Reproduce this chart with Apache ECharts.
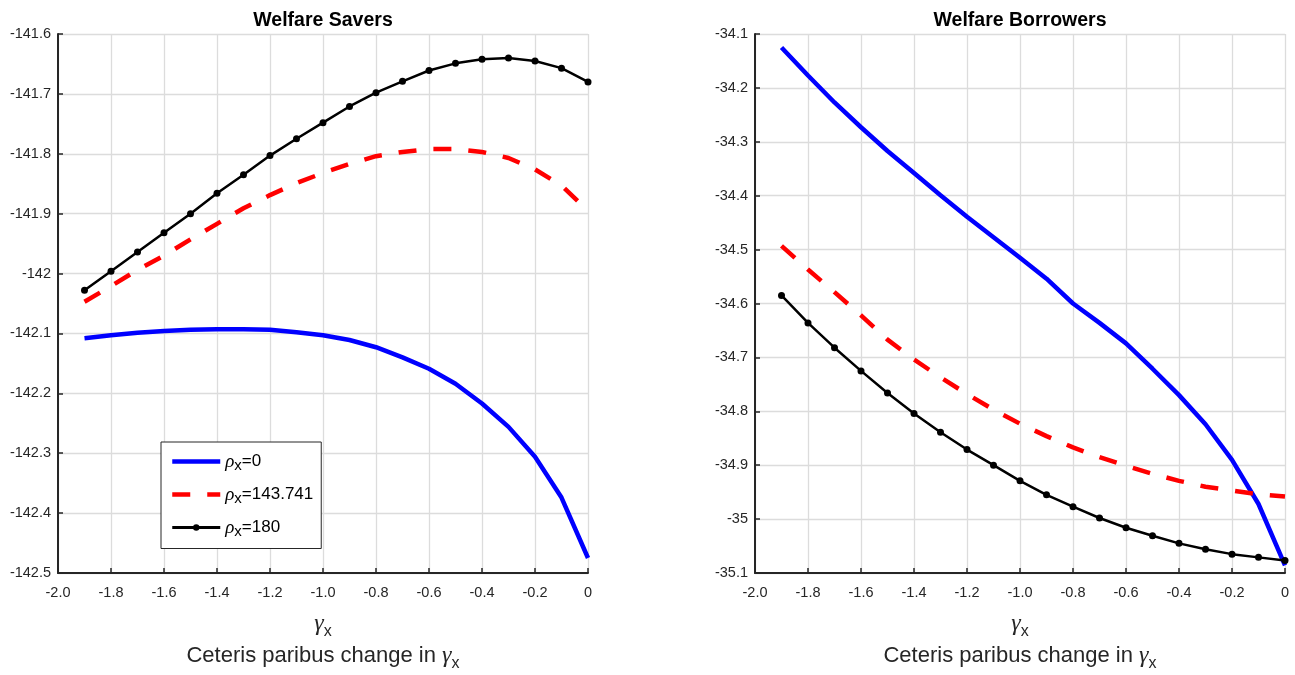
<!DOCTYPE html>
<html>
<head>
<meta charset="utf-8">
<script src="https://cdn.jsdelivr.net/npm/echarts@6/dist/echarts.min.js"></script>
<style>html,body{margin:0;padding:0;background:#fff}#c{width:1295px;height:675px}</style>
</head>
<body>
<div id="c"></div>
<script>
// ---- data ----
const gammaX = [-1.9,-1.8,-1.7,-1.6,-1.5,-1.4,-1.3,-1.2,-1.1,-1.0,-0.9,-0.8,-0.7,-0.6,-0.5,-0.4,-0.3,-0.2,-0.1,0];
const rhoNames = ['0','143.741','180'];

const saversRho0   = [-142.108,-142.103,-142.099,-142.096,-142.094,-142.093,-142.093,-142.094,-142.098,-142.103,-142.111,-142.123,-142.140,-142.159,-142.184,-142.217,-142.256,-142.306,-142.374,-142.475];
const saversRho143 = [-142.047,-142.021,-141.994,-141.970,-141.943,-141.917,-141.891,-141.869,-141.849,-141.832,-141.817,-141.804,-141.797,-141.792,-141.792,-141.797,-141.807,-141.826,-141.853,-141.895];
const saversRho180 = [-142.028,-141.996,-141.964,-141.932,-141.900,-141.866,-141.835,-141.803,-141.775,-141.748,-141.721,-141.698,-141.679,-141.661,-141.649,-141.642,-141.640,-141.645,-141.657,-141.680];

const borrowersRho0   = [-34.125,-34.177,-34.227,-34.273,-34.317,-34.358,-34.399,-34.439,-34.477,-34.515,-34.554,-34.600,-34.636,-34.674,-34.721,-34.770,-34.824,-34.890,-34.972,-35.086];
const borrowersRho143 = [-34.493,-34.537,-34.579,-34.622,-34.667,-34.704,-34.737,-34.768,-34.797,-34.823,-34.846,-34.867,-34.885,-34.901,-34.916,-34.929,-34.940,-34.947,-34.954,-34.958];
const borrowersRho180 = [-34.585,-34.636,-34.682,-34.725,-34.766,-34.804,-34.839,-34.871,-34.900,-34.929,-34.955,-34.977,-34.998,-35.016,-35.031,-35.045,-35.056,-35.065,-35.071,-35.077];

const titles = ['Welfare Savers','Welfare Borrowers'];
const xRange = [-2.0, 0];
const savY = [-142.5, -141.6];
const borY = [-35.1, -34.1];

// ---- helpers ----
const pairs = ys => gammaX.map((x,i)=>[x, ys[i]]);
const FONT = 'Liberation Sans, Arial, sans-serif';
const SERIF = 'Liberation Serif, DejaVu Serif, serif';
const DARK = '#262626';
const GRID = '#dcdcdc';

function yFmt(v){ const r = Math.round(v*10)/10; return Number.isInteger(r) ? String(r) : r.toFixed(1); }
function xFmt(v){ const r = Math.round(v*10)/10; return r === 0 ? '0' : r.toFixed(1); }

const nameRich = {
  g: {fontFamily:SERIF, fontStyle:'italic', fontSize:24, lineHeight:32, color:DARK},
  s: {fontFamily:FONT, fontSize:16, lineHeight:12, verticalAlign:'bottom', color:DARK},
  t: {fontFamily:FONT, fontSize:22, lineHeight:32, color:DARK}
};
const axisName = '{g|γ}{s|x}\n{t|Ceteris paribus change in }{g|γ}{s|x}';

function xAxisCfg(gi){
  return {
    type:'value', gridIndex:gi, min:xRange[0], max:xRange[1], interval:0.2,
    name:axisName, nameLocation:'middle', nameGap:35,
    nameTextStyle:{rich:nameRich},
    axisLine:{show:true, onZero:false, lineStyle:{color:DARK, width:2}},
    axisTick:{show:true, inside:true, length:5, lineStyle:{color:DARK, width:1.5}},
    axisLabel:{formatter:xFmt, color:DARK, fontFamily:FONT, fontSize:14.5, margin:12},
    splitLine:{show:true, lineStyle:{color:GRID, width:1.3}}
  };
}
function yAxisCfg(gi, rng){
  return {
    type:'value', gridIndex:gi, min:rng[0], max:rng[1], interval:0.1,
    axisLine:{show:true, onZero:false, lineStyle:{color:DARK, width:2}},
    axisTick:{show:true, inside:true, length:5, lineStyle:{color:DARK, width:1.5}},
    axisLabel:{formatter:yFmt, color:DARK, fontFamily:FONT, fontSize:14.5, margin:7},
    splitLine:{show:true, lineStyle:{color:GRID, width:1.3}}
  };
}
function seriesSet(gi, d0, d1, d2){
  return [
    {name:rhoNames[0], type:'line', xAxisIndex:gi, yAxisIndex:gi, data:pairs(d0), symbol:'none',
     lineStyle:{color:'#0000ff', width:4.5}, itemStyle:{color:'#0000ff'}, z:2, animation:false},
    {name:rhoNames[1], type:'line', xAxisIndex:gi, yAxisIndex:gi, data:pairs(d1), symbol:'none',
     lineStyle:{color:'#ff0000', width:4.5, type:[18,17], cap:'butt'}, itemStyle:{color:'#ff0000'}, z:3, animation:false},
    {name:rhoNames[2], type:'line', xAxisIndex:gi, yAxisIndex:gi, data:pairs(d2), symbol:'circle', symbolSize:7,
     showAllSymbol:true,
     lineStyle:{color:'#000000', width:2.5}, itemStyle:{color:'#000000'}, z:4, animation:false}
  ];
}

const hiddenDot = {color:'rgba(0,0,0,0)', borderWidth:0};

const chart = echarts.init(document.getElementById('c'), null, {renderer:'canvas'});
chart.setOption({
  backgroundColor:'#ffffff',
  animation:false,
  title:[
    {text:titles[0], left:318, top:6, textAlign:'center',
     textStyle:{fontFamily:FONT, fontWeight:'bold', fontSize:19.5, color:'#000'}},
    {text:titles[1], left:1015, top:6, textAlign:'center',
     textStyle:{fontFamily:FONT, fontWeight:'bold', fontSize:19.5, color:'#000'}}
  ],
  grid:[
    {left:58, top:34, width:530, height:539, outerBoundsMode:'none', containLabel:false},
    {left:755, top:34, width:530, height:539, outerBoundsMode:'none', containLabel:false}
  ],
  xAxis:[xAxisCfg(0), xAxisCfg(1)],
  yAxis:[yAxisCfg(0, savY), yAxisCfg(1, borY)],
  legend:{
    data:[
      {name:rhoNames[0], itemStyle:hiddenDot, lineStyle:{width:4.5, color:'#0000ff'}},
      {name:rhoNames[1], itemStyle:hiddenDot, lineStyle:{width:4.5, color:'#ff0000', type:[18,17]}},
      {name:rhoNames[2], lineStyle:{width:3, color:'#000000'}}
    ],
    orient:'vertical', left:161, top:442,
    padding:[10,8,9,9], itemGap:11.5, itemWidth:48, itemHeight:8,
    borderColor:DARK, borderWidth:1, backgroundColor:'#ffffff',
    selectedMode:false,
    formatter: n => '{r|ρ}{s|x}{t|=' + n + '}',
    textStyle:{
      rich:{
        r:{fontFamily:SERIF, fontStyle:'italic', fontSize:19, lineHeight:24, color:'#000'},
        s:{fontFamily:FONT, fontSize:15, lineHeight:4, verticalAlign:'bottom', color:'#000'},
        t:{fontFamily:FONT, fontSize:17, lineHeight:24, color:'#000'}
      }
    }
  },
  series:[].concat(
    seriesSet(0, saversRho0, saversRho143, saversRho180),
    seriesSet(1, borrowersRho0, borrowersRho143, borrowersRho180)
  )
});
</script>
</body>
</html>
